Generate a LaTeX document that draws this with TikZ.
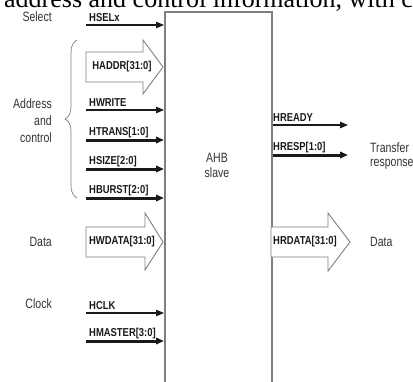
\documentclass[tikz,border=0pt]{standalone}
\usepackage{fontspec}
\setmainfont{Liberation Serif}
\newfontfamily\lblfont[FakeStretch=0.82]{Liberation Sans}
\newfontfamily\grpfont[FakeStretch=0.78]{Liberation Sans}
\usepackage{tikz}
\usetikzlibrary{arrows.meta,positioning,decorations.pathreplacing}
\definecolor{sigBlack}{HTML}{1A1A1A}
\definecolor{boxGray}{HTML}{7F7F7F}
\definecolor{txtGray}{HTML}{333333}

\begin{document}
\begin{tikzpicture}[x=1pt,y=1pt,font=\grpfont\fontsize{13.5}{15}\selectfont,
  sig/.style={draw=sigBlack, line width=1.2pt, -{Triangle[length=8pt,width=6.5pt]}},
  bussig/.style={sig, line width=3pt},
  bus/.style={draw=boxGray, line width=0.9pt, fill=white, line join=miter},
  signame/.style={anchor=base west, inner sep=0pt, text=sigBlack,
    font=\lblfont\bfseries\fontsize{11.5}{13}\selectfont},
  group/.style={inner sep=0pt, text=txtGray, anchor=east}]
\useasboundingbox (0,0) rectangle (413,-381);
\clip (0,0) rectangle (413,-381);
% cut-off caption line above the figure
\node[anchor=base west, inner sep=0pt, font=\rmfamily\fontsize{26}{28}\selectfont] (cap) at (4,-7)
  {address and control information, with c};
% the slave block, open at the bottom
\node[draw=boxGray, line width=1.5pt, minimum width=107pt, minimum height=420pt,
  anchor=north west, inner sep=0pt] (slave) at (164,-11) {};
\node[group, anchor=center, align=center] (ahb) at (217,-165) {AHB\\slave};
% single-wire inputs
\foreach \id/\y/\txt in {hselx/25/HSELx, hwrite/110/HWRITE, hclk/313/HCLK}{
  \coordinate (\id) at (86,-\y);
  \draw[sig] (\id) -- (\id -| slave.west);
  \node[signame] (\id-l) at (89,-\y+4) {\txt};
}
% multi-bit control inputs
\foreach \id/\y/\txt in {htrans/140/HTRANS[1:0], hsize/169/HSIZE[2:0], hburst/198/HBURST[2:0], hmaster/341/HMASTER[3:0]}{
  \coordinate (\id) at (86,-\y);
  \draw[bussig] (\id) -- (\id -| slave.west);
  \node[signame] (\id-l) at (89,-\y+5) {\txt};
}
% outputs
\coordinate (hready) at (348,-125);
\coordinate (hresp) at (348,-155);
\draw[sig] (hready -| slave.east) -- (hready);
\draw[bussig] (hresp -| slave.east) -- (hresp);
\node[signame] (hready-l) at (273,-121) {HREADY};
\node[signame] (hresp-l) at (273,-150) {HRESP[1:0]};
% wide buses
\draw[bus] (86,-52) -- (143,-52) -- (143,-40) -- (163,-67) -- (143,-94) -- (143,-82) -- (86,-82) -- cycle;
\draw[bus] (86,-227) -- (145,-227) -- (145,-213) -- (163,-242) -- (145,-270) -- (145,-257) -- (86,-257) -- cycle;
\draw[bus] (271,-227) -- (328,-227) -- (328,-213) -- (350,-242) -- (328,-271) -- (328,-257) -- (271,-257) -- cycle;
\node[signame, anchor=center] (haddr) at (122,-67) {HADDR[31:0]};
\node[signame, anchor=center] (hwdata) at (122,-242) {HWDATA[31:0]};
\node[signame, anchor=center] (hrdata) at (305,-242) {HRDATA[31:0]};
% group labels
\node[group] (select) at (52,-17) {Select};
\node[group, align=right, font=\grpfont\fontsize{13.5}{17}\selectfont] (addr) at (52,-121)
  {Address\\and\\control};
\draw[boxGray, line width=0.7pt, decorate, decoration={brace, amplitude=12pt}] (77,-198) -- (77,-40);
\node[group] (data-in) at (52,-242) {Data};
\node[group] (clock) at (52,-304) {Clock};
\node[group, anchor=base west] (xfer) at (370,-152) {Transfer};
\node[group, anchor=base west] (resp) at (370,-166) {response};
\node[group, anchor=west] (data-out) at (370,-242) {Data};
\end{tikzpicture}
\end{document}
